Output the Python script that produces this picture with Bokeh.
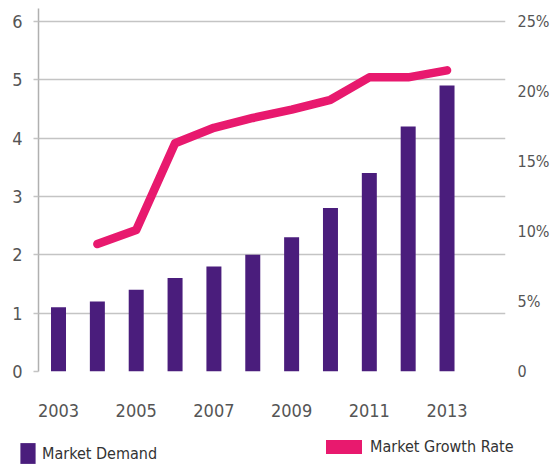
from bokeh.plotting import figure
from bokeh.models import (ColumnDataSource, LinearAxis, Range1d, FixedTicker,
                          Legend, LegendItem)
from bokeh.layouts import column
from bokeh.embed import file_html
from bokeh.resources import INLINE

years = [2003, 2004, 2005, 2006, 2007, 2008, 2009, 2010, 2011, 2012, 2013]
demand = [1.1, 1.2, 1.4, 1.6, 1.8, 2.0, 2.3, 2.8, 3.4, 4.2, 4.9]
growth_years = [2004, 2005, 2006, 2007, 2008, 2009, 2010, 2011, 2012, 2013]
growth = [9.1, 10.1, 16.3, 17.4, 18.1, 18.7, 19.4, 21.0, 21.0, 21.5]
left_ticks = [0, 1, 2, 3, 4, 5, 6]
right_ticks = [0, 5, 10, 15, 20, 25]
right_labels = ["0", "5%", "10%", "15%", "20%", "25%"]
x_ticks = [2003, 2005, 2007, 2009, 2011, 2013]
series_names = ["Market Demand", "Market Growth Rate"]

PURPLE = "#4a1d7c"
PINK = "#e8196e"
FONT = "DejaVu Sans Condensed"
TICK_SIZE = "18px"

ytop = 6.22
p = figure(frame_width=467, frame_height=363, output_backend="svg",
           toolbar_location=None,
           x_range=Range1d(2002.485, 2014.505), y_range=Range1d(0, ytop),
           min_border_left=38, min_border_right=0, min_border_top=8,
           min_border_bottom=62)
p.outline_line_color = None

p.extra_y_ranges = {"pct": Range1d(0, ytop * 25 / 6)}

p.xgrid.visible = False
p.ygrid.ticker = FixedTicker(ticks=left_ticks)
p.ygrid.grid_line_color = "#c4c4c4"
p.ygrid.grid_line_width = 1.5

bars = ColumnDataSource(dict(x=years, top=demand))
p.vbar(x="x", top="top", width=0.386, source=bars, fill_color=PURPLE,
       line_color=None)
ls = ColumnDataSource(dict(x=growth_years, y=growth))
p.line(x="x", y="y", source=ls, y_range_name="pct", line_color=PINK,
       line_width=8.5, line_cap="round", line_join="round")

# left axis
ya = p.yaxis[0]
ya.ticker = FixedTicker(ticks=left_ticks)
ya.axis_line_color = "#b0b0b0"
ya.axis_line_width = 1.5
ya.major_tick_line_color = "#c4c4c4"
ya.major_tick_line_width = 1.5
ya.major_tick_out = 5
ya.major_tick_in = 0
ya.minor_tick_line_color = None
ya.major_label_text_font = FONT
ya.major_label_text_font_size = TICK_SIZE
ya.major_label_text_color = "#555555"
ya.major_label_standoff = 11

# right axis
ra = LinearAxis(y_range_name="pct", ticker=FixedTicker(ticks=right_ticks),
                major_label_overrides={t: l for t, l in zip(right_ticks, right_labels)})
ra.axis_line_color = None
ra.major_tick_line_color = None
ra.minor_tick_line_color = None
ra.major_label_text_font = FONT
ra.major_label_text_font_size = "16px"
ra.major_label_text_color = "#555555"
ra.major_label_standoff = 6
p.add_layout(ra, "right")

# x axis
xa = p.xaxis[0]
xa.ticker = FixedTicker(ticks=x_ticks)
xa.axis_line_color = None
xa.major_tick_line_color = None
xa.minor_tick_line_color = None
xa.major_label_text_font = FONT
xa.major_label_text_font_size = TICK_SIZE
xa.major_label_text_color = "#555555"
xa.major_label_standoff = 26

# legend strip
lf = figure(frame_width=550, frame_height=33, output_backend="svg",
            toolbar_location=None, x_range=Range1d(0, 1), y_range=Range1d(0, 1),
            x_axis_location=None, y_axis_location=None, min_border=0,
            min_border_left=0, min_border_right=0, min_border_top=0,
            min_border_bottom=0)
lf.grid.visible = False
lf.outline_line_color = None
# off-screen proxies, only used to draw the legend swatches
dv = lf.vbar(x=[5], top=[1], width=0.1, fill_color=PURPLE, line_color=None)
dl = lf.line(x=[5, 6], y=[5, 5], line_color=PINK, line_width=14,
             line_cap="round")


def mk_legend(item, loc, gw, gh, standoff):
    return Legend(items=[item], location=loc, orientation="horizontal",
                  glyph_width=gw, glyph_height=gh, label_standoff=standoff,
                  padding=0, margin=0, spacing=0, border_line_color=None,
                  background_fill_alpha=0, label_text_font=FONT,
                  label_text_font_size="16px", label_text_color="#333333")


lf.add_layout(mk_legend(LegendItem(label=series_names[0], renderers=[dv]),
                        (18, 0), 19, 26, 5), "center")
lf.add_layout(mk_legend(LegendItem(label=series_names[1], renderers=[dl]),
                        (326, 9), 36, 21, 8), "center")

open("out.html", "w").write(file_html(column(p, lf, spacing=0), INLINE))
